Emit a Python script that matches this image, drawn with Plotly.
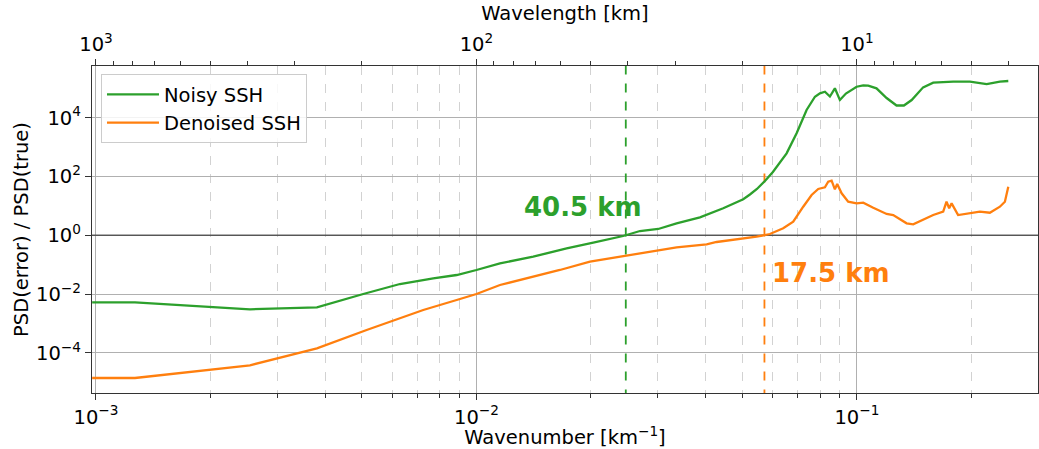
import numpy as np
import plotly.graph_objects as go

# Wavenumber samples [km^-1] and PSD ratios for the noisy input
k_noisy = [0.000977, 0.001266, 0.002539, 0.003808, 0.005041, 0.006292, 0.007698,
           0.008872, 0.01, 0.01153, 0.0141, 0.01726, 0.02028, 0.0243, 0.0269,
           0.03005, 0.03358, 0.03868, 0.04453, 0.05026, 0.05234, 0.05461, 0.05731,
           0.06014, 0.06535, 0.06943, 0.07375, 0.07757, 0.07996, 0.0824, 0.08492,
           0.08752, 0.09021, 0.09357, 0.09982, 0.1039, 0.1071, 0.1126, 0.1197,
           0.1271, 0.1329, 0.1393, 0.1493, 0.1587, 0.1791, 0.1982, 0.2193,
           0.2376, 0.25]
ratio_noisy = [0.00526, 0.00526, 0.00304, 0.00356, 0.01007, 0.02206, 0.03447,
               0.04463, 0.0661, 0.1116, 0.1871, 0.361, 0.56, 0.947, 1.40,
               1.64, 2.56, 4.10, 8.29, 16.8, 24.4, 37.6, 70.3,
               142, 615, 2946, 18280, 51800, 67600, 76600, 52600,
               100000, 40000, 66500, 113300, 126500, 122500, 100000, 46800,
               26000, 26000, 40000, 108000, 155000, 167600, 167600, 140000,
               170300, 177000]

# Same for the denoised output
k_denoised = [0.000977, 0.001266, 0.002539, 0.003808, 0.005145, 0.007247, 0.008872,
              0.01, 0.01153, 0.0141, 0.01657, 0.01988, 0.0243, 0.03005, 0.03358,
              0.04027, 0.04279, 0.0545, 0.05906, 0.06402, 0.06802, 0.07226, 0.07603,
              0.07914, 0.0824, 0.08406, 0.0858, 0.08752, 0.08877, 0.09117, 0.09486,
              0.09982, 0.1039, 0.1104, 0.1197, 0.1246, 0.1351, 0.1406, 0.1493,
              0.1587, 0.1686, 0.172, 0.1748, 0.1774, 0.1845, 0.1982, 0.2105,
              0.2236, 0.2376, 0.2449, 0.25]
ratio_denoised = [1.40e-5, 1.40e-5, 3.79e-5, 1.43e-4, 6.01e-4, 2.88e-3, 6.30e-3,
                  0.01007, 0.0204, 0.0391, 0.0661, 0.1265, 0.1977, 0.2994, 0.391,
                  0.494, 0.592, 0.896, 1.107, 1.73, 2.90, 9.39, 23.5,
                  37.6, 42.9, 66.5, 72.0, 36.7, 55.6, 26.8, 13.9,
                  12.25, 12.85, 8.68, 5.30, 4.90, 2.56, 2.37, 3.31,
                  4.90, 6.35, 13.9, 8.29, 12.25, 4.90, 5.60, 6.35,
                  5.87, 9.39, 13.9, 45.0]

# Effective resolution thresholds [km]
lambda_noisy = 40.5
lambda_denoised = 17.5

GREEN = "#2ca02c"
ORANGE = "#ff7f0e"
FONT = "DejaVu Sans"

k_range = [-3.0105, -0.524]          # log10 wavenumber limits
y_range = [-5.364, 5.759]            # log10 ratio limits


def pow10(e):
    return "10<sup>" + str(e).replace("-", "\u2212") + "</sup>"


k_major = [1e-3, 1e-2, 1e-1]
k_minor = [m * 10.0 ** d for d in (-3, -2, -1) for m in range(2, 10) if m * 10.0 ** d < 0.3]
wl_major = [1000, 100, 10]
wl_minor = [m * 10.0 ** d for d in (0, 1, 2) for m in range(2, 10) if m * 10.0 ** d > 3.34]
y_major_exp = [-4, -2, 0, 2, 4]

fig = go.Figure()

# Reference level PSD(error) = PSD(true)
fig.add_trace(go.Scatter(x=[1e-4, 1.0], y=[1, 1], mode="lines",
                         line=dict(color="rgba(70,70,70,0.85)", width=1.5),
                         showlegend=False, hoverinfo="skip"))

# Threshold wavenumbers
for lam, col in ((lambda_noisy, GREEN), (lambda_denoised, ORANGE)):
    fig.add_trace(go.Scatter(x=[1.0 / lam, 1.0 / lam], y=[1e-8, 1e8], mode="lines",
                             line=dict(color=col, width=1.8, dash="dash"),
                             showlegend=False, hoverinfo="skip"))

fig.add_trace(go.Scatter(x=k_noisy, y=ratio_noisy, mode="lines", name="Noisy SSH",
                         line=dict(color=GREEN, width=2.3)))
fig.add_trace(go.Scatter(x=k_denoised, y=ratio_denoised, mode="lines", name="Denoised SSH",
                         line=dict(color=ORANGE, width=2.3)))

# Carrier for the wavelength axis on top
fig.add_trace(go.Scatter(x=[lambda_noisy, lambda_denoised], y=[1, 1], xaxis="x2",
                         mode="markers", marker=dict(opacity=0), showlegend=False,
                         hoverinfo="skip"))

axis_line = dict(showline=True, linecolor="#333333", linewidth=1.3,
                 ticks="outside", ticklen=6, tickwidth=1.2, tickcolor="#333333",
                 zeroline=False, tickfont=dict(size=19.5))

fig.update_layout(
    width=1039, height=449,
    margin=dict(l=92, r=1, t=66, b=56),
    paper_bgcolor="white", plot_bgcolor="white",
    font=dict(family=FONT, size=19.5, color="black"),
    xaxis=dict(type="log", range=k_range,
               tickvals=k_major, ticktext=[pow10(e) for e in (-3, -2, -1)],
               showgrid=True, gridcolor="#b0b0b0", gridwidth=1.2,
               minor=dict(tickvals=k_minor, ticks="outside", ticklen=3.5,
                          tickcolor="#333333", showgrid=True, gridcolor="#d2d2d2",
                          griddash="dash", gridwidth=0.9),
               title=dict(text="Wavenumber [km<sup>\u22121</sup>]", standoff=4,
                          font=dict(size=19.5)),
               **axis_line),
    xaxis2=dict(type="log", overlaying="x", side="top", anchor="y",
                range=[-k_range[0], -k_range[1]],
                tickvals=wl_major, ticktext=[pow10(e) for e in (3, 2, 1)],
                showgrid=False,
                minor=dict(tickvals=wl_minor, ticks="outside", ticklen=3.5,
                           tickcolor="#333333", showgrid=False),
                title=dict(text="Wavelength [km]", standoff=4, font=dict(size=19.5)),
                **axis_line),
    yaxis=dict(type="log", range=y_range,
               tickvals=[10.0 ** e for e in y_major_exp],
               ticktext=[pow10(e) for e in y_major_exp],
               showgrid=True, gridcolor="#b0b0b0", gridwidth=1.2, mirror=True,
               title=dict(text="PSD(error) / PSD(true)", standoff=2,
                          font=dict(size=19.5)),
               **axis_line),
    legend=dict(x=0.0095, y=0.975, xanchor="left", yanchor="top", itemwidth=52,
                bgcolor="rgba(255,255,255,0.85)", bordercolor="#cccccc", borderwidth=1,
                font=dict(size=19.5)),
    annotations=[
        dict(text="<b>%.1f km</b>" % lambda_noisy, x=-1.72, y=0.95, xref="x", yref="y",
             xanchor="center", yanchor="middle", showarrow=False,
             font=dict(size=26, color=GREEN, family=FONT)),
        dict(text="<b>%.1f km</b>" % lambda_denoised, x=float(np.log10(1.0 / lambda_denoised)),
             y=-1.28, xref="x", yref="y", xanchor="left", yanchor="middle", xshift=6,
             showarrow=False, font=dict(size=26, color=ORANGE, family=FONT)),
    ],
)

fig.write_html("out.html")
